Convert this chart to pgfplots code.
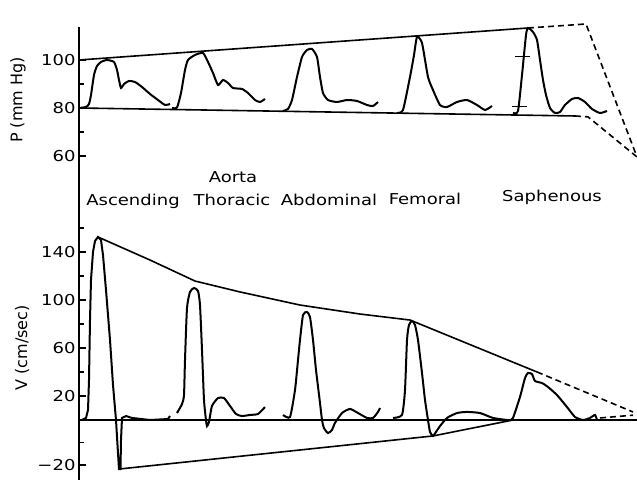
\documentclass[border=0pt]{standalone}
\usepackage{fontspec}
\setmainfont{DejaVu Sans}
\newfontfamily\stretchfont[FakeStretch=1.2]{DejaVu Sans}
\usepackage{pgfplots}
\pgfplotsset{compat=1.18}
\newcommand\lbl{\stretchfont\fontsize{15}{18}\selectfont}
\newcommand\ylbl{\fontsize{16}{19}\selectfont}
\begin{document}
\begin{tikzpicture}
\path[use as bounding box] (0pt,0pt) rectangle (637pt,486pt);
\pgfplotsset{panel/.style={scale only axis, width=558pt, xmin=79, xmax=637,
  axis y line*=left, axis x line=none, xtick=\empty, tick align=inside,
  major tick length=7pt, minor tick length=5pt,
  every tick/.style={black, line width=1.4pt},
  axis line style={line width=1.7pt,-},
  yticklabel style={font=\lbl}, clip=false},
  env/.style={black, line width=1.6pt},
  envd/.style={black, line width=1.6pt, dash pattern=on 6pt off 4pt},
  wave/.style={black, line width=2pt, smooth, tension=0.35}}
% ---------------- Pressure panel ----------------
\begin{axis}[panel, at={(79pt,266pt)}, anchor=south west, height=193pt,
  ymin=33.333, ymax=113.75, ytick={60,80,100}, yticklabels={60,80,100},
  minor ytick={70,90}]
\addplot[env] coordinates {(79,100) (528,113.33)};
\addplot[envd] coordinates {(528,113.33) (586,115) (637,59.6)};
\addplot[env] coordinates {(79,80) (575,76.67)};
\addplot[envd] coordinates {(575,76.67) (588,76.3) (637,59.6)};
% Ascending aorta
\addplot[wave] coordinates {(79,80) (86,80.42) (89,81.67) (91,85.42) (94,93.75) (97,97.5) (101,99.17) (107,100) (114,99.17) (117,95.83) (119,91.67) (121,88.33) (124,90) (129,91.25) (135,90.83) (142,88.75) (150,85.83) (158,83.33) (165,81.25) (170,81.67)};
% Thoracic aorta
\addplot[wave] coordinates {(172,80) (177,80.2) (181,86.25) (185,95.83) (188,100) (195,102.08) (203,102.92) (208,99.17) (213,94.58) (218,89.58) (223,91.67) (228,90.42) (233,88.33) (242,87.92) (248,86.25) (255,83.33) (260,82.5) (265,83.75)};
% Abdominal aorta
\addplot[wave] coordinates {(283,78.75) (288,79.6) (292,83.33) (297,92.92) (302,101.25) (307,104.17) (312,104.58) (317,101.25) (320,92.92) (323,86.25) (328,83.33) (337,82.5) (347,83.33) (357,82.92) (367,81.25) (373,80.83) (378,82.5)};
% Femoral
\addplot[wave] coordinates {(397,77.92) (403,79.17) (410,92.92) (414,102.08) (417,109.58) (422,107.08) (428,92.92) (433,87.5) (440,81.25) (447,80.42) (457,82.5) (467,83.33) (477,81.25) (485,79.17) (492,80.83)};
% Saphenous
\addplot[wave] coordinates {(513,77.92) (518,78.75) (522,93.75) (526,110.42) (528,113.33) (533,111.67) (537,108.33) (540,100) (543,91.67) (546,85.42) (550,80) (555,77.92) (560,78.33) (565,81.25) (572,83.75) (578,84.17) (585,82.5) (592,79.58) (600,77.92) (607,78.75)};
\addplot[black, line width=1.4pt] coordinates {(515,101.4) (530,101.4)};
\addplot[black, line width=1.4pt] coordinates {(512,80.56) (527,80.56)};
\node[rotate=90, font=\ylbl] at (axis cs:18,83.3) {P (mm Hg)};
\end{axis}
% ---------------- Velocity panel ----------------
\begin{axis}[panel, at={(79pt,6pt)}, anchor=south west, height=260pt,
  y coord trafo/.code={\pgfmathparse{(#1<0)?(1.875*(#1)):(#1)}},
  ymin=-26.667, ymax=166.667, ytick={-20,20,60,100,140},
  yticklabels={−20,20,60,100,140}, minor ytick={-10,0,40,80,120,160}]
\addplot[env] coordinates {(79,0) (637,0)};
\addplot[env] coordinates {(98,152.5) (150,133.3) (195,115.8) (240,106.7) (300,95.8) (360,88.3) (410,83.3) (537,40)};
\addplot[envd] coordinates {(537,40) (633,6.7)};
\addplot[env] coordinates {(119,-21.8) (433,-7.1) (513,0)};
% Ascending aorta
\addplot[black, line width=2pt] coordinates {(82,0) (86,1.7) (88,8.3) (89,33.3) (90,83.3) (91,116.7) (93,140) (95,149.2) (98,152.5) (101,150) (103,137.5) (106,108.3) (110,66.7) (113,29.2) (116,0) (117.5,-11.1) (119,-21.8) (120.5,-21.8) (121,-8.9) (122,1.7) (126,3.3) (132,1.7) (150,0) (168,0.8) (170,3.3)};
% Thoracic aorta
\addplot[wave] coordinates {(177,5.8) (182,13.3) (184,20.8) (185,50) (187,93.3) (190,106.7) (194,110) (198,107.5) (200,95.8) (202,58.3) (204,16.7) (206,0) (207,-2.7) (209,-0.9) (212,11.7) (218,18.3) (224,18.3) (230,11.7) (236,5) (242,3.3) (250,4.2) (258,5) (265,10.8)};
% Abdominal aorta
\addplot[wave] coordinates {(283,4.2) (290,2.5) (295,25) (298,50) (300,66.7) (303,87.5) (307,90) (310,85.8) (313,66.7) (316,41.7) (320,14.2) (322,0) (324,-3.6) (328,-5.8) (332,-4.4) (335,-1.3) (342,5.8) (350,9.2) (358,5.8) (367,1.7) (373,1.7) (378,6.7) (380,10)};
% Femoral
\addplot[wave] coordinates {(393,1.7) (402,4.2) (405,25) (407,66.7) (409,79.2) (412,82.5) (415,79.2) (418,66.7) (422,39.2) (425,16.7) (428,0) (430,-5.3) (433,-7.1) (436,-5.3) (440,-2.7) (447,1.7) (457,5.8) (467,6.7) (480,5.8) (493,1.7) (507,0)};
% Saphenous
\addplot[wave] coordinates {(510,0) (513,1.7) (520,19.2) (525,35) (528,39.2) (532,38.3) (535,32.5) (542,30.8) (548,27.5) (557,20.8) (567,10.8) (575,2.5) (583,0) (590,1.7) (595,4.2) (597,0)};
\addplot[envd] coordinates {(600,1.7) (633,4)};
\node[rotate=90, font=\ylbl] at (axis cs:22,60) {V (cm/sec)};
\end{axis}
% ---------------- site labels ----------------
\node[font=\lbl, anchor=base] at (233pt,303pt) {Aorta};
\node[font=\lbl, anchor=base] at (133pt,280pt) {Ascending};
\node[font=\lbl, anchor=base] at (232pt,280pt) {Thoracic};
\node[font=\lbl, anchor=base] at (329pt,280pt) {Abdominal};
\node[font=\lbl, anchor=base] at (425pt,281pt) {Femoral};
\node[font=\lbl, anchor=base] at (552pt,284pt) {Saphenous};
\end{tikzpicture}
\end{document}
